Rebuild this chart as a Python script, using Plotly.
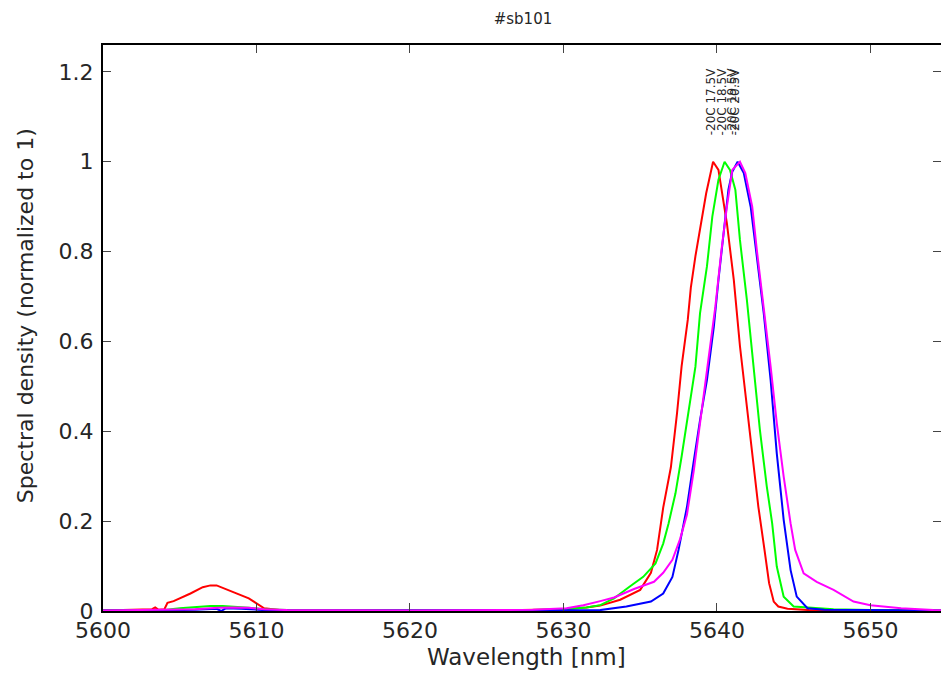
import plotly.graph_objects as go

# ---- data ----
red_wl = [5600, 5602, 5603.2, 5603.4, 5603.6, 5604.0, 5604.2, 5604.6, 5605.0, 5605.7, 5606.5, 5607.0, 5607.4,
          5607.9, 5608.5, 5609.0, 5609.5, 5610.0, 5610.5, 5611.5, 5615, 5620, 5625, 5628, 5630, 5631.5, 5632.4,
          5633.7, 5635.0, 5635.7, 5636.1, 5636.5, 5637.0, 5637.4, 5637.7, 5638.1, 5638.3, 5638.6, 5638.9, 5639.3,
          5639.75, 5640.1, 5640.65, 5641.1, 5641.5, 5642.0, 5642.3, 5642.7, 5643.1, 5643.4, 5643.7, 5644.0, 5644.6,
          5646, 5650, 5655]
red_v = [0.001, 0.002, 0.004, 0.008, 0.003, 0.004, 0.018, 0.022, 0.028, 0.039, 0.053, 0.057, 0.057,
         0.050, 0.043, 0.036, 0.028, 0.017, 0.006, 0.002, 0.001, 0.001, 0.001, 0.002, 0.004, 0.008, 0.012,
         0.025, 0.047, 0.085, 0.136, 0.23, 0.32, 0.44, 0.545, 0.648, 0.72, 0.79, 0.853, 0.93,
         1.0, 0.982, 0.863, 0.737, 0.59, 0.44, 0.344, 0.232, 0.136, 0.062, 0.021, 0.01, 0.005,
         0.002, 0.001, 0.001]

green_wl = [5600, 5604, 5605, 5606, 5607, 5607.8, 5608.5, 5609.5, 5610.5, 5612, 5620, 5628, 5630, 5631.5,
            5632.4, 5633.3, 5634.3, 5635.2, 5636.0, 5636.5, 5636.85, 5637.3, 5637.7, 5638.15, 5638.6, 5638.9,
            5639.35, 5639.7, 5640.1, 5640.5, 5640.85, 5641.2, 5641.5, 5641.95, 5642.4, 5642.8, 5643.25, 5643.6,
            5643.9, 5644.35, 5645.0, 5647.6, 5650, 5655]
green_v = [0.001, 0.002, 0.006, 0.009, 0.011, 0.011, 0.01, 0.007, 0.004, 0.002, 0.001, 0.002, 0.004, 0.008,
           0.013, 0.028, 0.054, 0.076, 0.106, 0.15, 0.195, 0.262, 0.344, 0.44, 0.544, 0.663,
           0.767, 0.878, 0.96, 1.0, 0.982, 0.938, 0.826, 0.693, 0.544, 0.403, 0.277, 0.195,
           0.099, 0.032, 0.01, 0.004, 0.002, 0.001]

blue_wl = [5600, 5604, 5606, 5607.4, 5607.7, 5608.0, 5609.0, 5610.5, 5612, 5620, 5628, 5630, 5632.4, 5634.1,
           5635.7, 5636.5, 5637.1, 5637.5, 5638.05, 5638.5, 5638.9, 5639.35, 5639.8, 5640.1, 5640.45, 5640.75,
           5641.0, 5641.35, 5641.75, 5642.2, 5642.6, 5643.05, 5643.5, 5643.9, 5644.35, 5644.8, 5645.2, 5645.9,
           5647, 5650, 5655]
blue_v = [0.001, 0.001, 0.003, 0.005, 0.0, 0.006, 0.005, 0.002, 0.001, 0.001, 0.001, 0.001, 0.002, 0.01,
          0.021, 0.039, 0.076, 0.136, 0.232, 0.336, 0.425, 0.514, 0.633, 0.737, 0.841, 0.938,
          0.978, 1.0, 0.975, 0.9, 0.789, 0.663, 0.514, 0.351, 0.203, 0.091, 0.032, 0.006,
          0.003, 0.002, 0.001]

magenta_wl = [5600, 5604, 5606, 5607.5, 5608.5, 5609.5, 5610.5, 5612, 5620, 5626, 5628, 5630.2, 5631.3, 5632.4,
              5633.3, 5634.6, 5635.9, 5636.5, 5637.1, 5637.6, 5638.05, 5638.5, 5638.9, 5639.35, 5639.9, 5640.3,
              5640.65, 5641.0, 5641.5, 5641.85, 5642.3, 5642.6, 5643.05, 5643.5, 5643.9, 5644.35, 5644.8, 5645.1,
              5645.65, 5646.5, 5647.6, 5648.9, 5650, 5652, 5654.1, 5655]
magenta_v = [0.001, 0.002, 0.004, 0.007, 0.008, 0.007, 0.004, 0.002, 0.001, 0.002, 0.003, 0.006, 0.013, 0.022,
             0.03, 0.049, 0.065, 0.085, 0.114, 0.16, 0.215, 0.314, 0.418, 0.529, 0.678, 0.804,
             0.9, 0.982, 1.0, 0.975, 0.9, 0.804, 0.678, 0.544, 0.418, 0.299, 0.195, 0.136,
             0.084, 0.065, 0.047, 0.021, 0.013, 0.006, 0.002, 0.001]

series_names = ["-20C 17.5V", "-20C 18.5V", "-20C 19.5V", "-20C 20.5V"]
series_colors = ["#ff0000", "#00ff00", "#0000ff", "#ff00ff"]
label_wl = [5639.63, 5640.35, 5640.97, 5641.2]
label_y = 1.055

x_ticks = [5600, 5610, 5620, 5630, 5640, 5650]
y_ticks = [0, 0.2, 0.4, 0.6, 0.8, 1.0, 1.2]
y_tick_text = ["0", "0.2", "0.4", "0.6", "0.8", "1", "1.2"]

FONT = "DejaVu Sans"
TXT = "#262626"

fig = go.Figure()
all_wl = [red_wl, green_wl, blue_wl, magenta_wl]
all_v = [red_v, green_v, blue_v, magenta_v]
for wl, v, name, col in zip(all_wl, all_v, series_names, series_colors):
    fig.add_trace(go.Scatter(x=wl, y=v, mode="lines", name=name,
                             line=dict(color=col, width=2), showlegend=False))

# invisible trace on a right-hand y axis for the mirrored ticks
fig.add_trace(go.Scatter(x=[5600], y=[0], yaxis="y2", mode="lines",
                         line=dict(width=0), showlegend=False, hoverinfo="skip"))

for wl, name in zip(label_wl, series_names):
    fig.add_annotation(x=wl, y=label_y, text=name, textangle=-90, showarrow=False,
                       xanchor="center", yanchor="bottom",
                       font=dict(family=FONT, size=12, color=TXT))

# axis titles
fig.add_annotation(text="Wavelength [nm]", xref="paper", yref="paper",
                   x=0.505, y=-0.081, xanchor="center", yanchor="middle", showarrow=False,
                   font=dict(family=FONT, size=23, color=TXT))
fig.add_annotation(text="Spectral density (normalized to 1)", xref="paper", yref="paper",
                   x=-0.093, y=0.521, xanchor="center", yanchor="middle", textangle=-90,
                   showarrow=False, font=dict(family=FONT, size=22, color=TXT))

fig.update_layout(
    width=941, height=677,
    margin=dict(l=103, r=0, t=45, b=66, autoexpand=False),
    paper_bgcolor="white", plot_bgcolor="white",
    title=dict(text="#sb101", x=523 / 941, xanchor="center", xref="container",
               y=1 - 24 / 677, yanchor="bottom", yref="container",
               font=dict(family=FONT, size=15, color=TXT)),
    xaxis=dict(range=[5600, 5654.6], tickvals=x_ticks, ticks="inside", ticklen=8,
               tickcolor="#444444", tickwidth=1, automargin=False,
               showline=True, linecolor="black", linewidth=2, mirror="ticks",
               showgrid=False, zeroline=False, ticklabelstandoff=-1,
               tickfont=dict(family=FONT, size=22, color=TXT)),
    yaxis=dict(range=[0, 1.26], tickvals=y_ticks, ticktext=y_tick_text, ticks="inside", ticklen=8,
               tickcolor="#444444", tickwidth=1, automargin=False,
               showline=True, linecolor="black", linewidth=2, mirror=False,
               showgrid=False, zeroline=False, ticklabelstandoff=3,
               tickfont=dict(family=FONT, size=22, color=TXT)),
    yaxis2=dict(overlaying="y", side="right", range=[0, 1.26], tickvals=y_ticks,
                ticks="inside", ticklen=8, tickcolor="#444444", tickwidth=1, automargin=False,
                showticklabels=False, showline=False, showgrid=False, zeroline=False),
)

fig.write_html("out.html", config={"displayModeBar": False},
               post_script="document.body.style.margin='0';document.body.style.overflow='hidden';")
